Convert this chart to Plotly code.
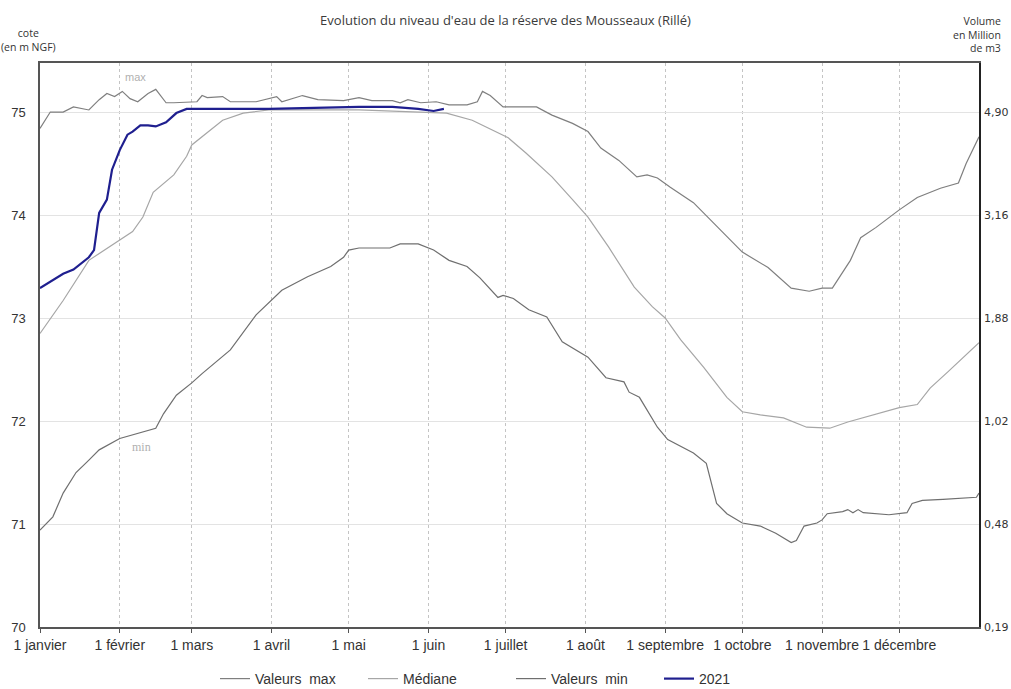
import plotly.graph_objects as go

# ---- data (x = day of year, 0 = 1 janvier) ----
max_days = [0, 4, 9, 13, 19, 23, 26, 29, 32, 35, 38, 42, 45, 47, 49, 52, 61, 63, 65, 71, 74, 84, 92, 94,
            102, 108, 118, 124, 129, 137, 140, 143, 148, 154, 159, 166, 170, 172, 175, 180, 193, 199,
            207, 213, 218, 225, 232, 236, 240, 245, 254, 273, 283, 292, 299, 304, 308, 315, 319, 325,
            334, 341, 350, 357, 360, 365]
max_vals = [74.84, 75.0, 75.0, 75.05, 75.02, 75.12, 75.18, 75.15, 75.2, 75.13, 75.1, 75.18, 75.22, 75.15,
            75.09, 75.09, 75.1, 75.16, 75.14, 75.15, 75.1, 75.1, 75.15, 75.1, 75.16, 75.12, 75.11, 75.14,
            75.11, 75.11, 75.09, 75.12, 75.09, 75.1, 75.07, 75.07, 75.1, 75.2, 75.16, 75.05, 75.05, 74.97,
            74.89, 74.81, 74.65, 74.53, 74.37, 74.39, 74.36, 74.27, 74.12, 73.64, 73.49, 73.29, 73.26,
            73.29, 73.29, 73.56, 73.78, 73.88, 74.05, 74.17, 74.26, 74.31, 74.5, 74.76]

med_days = [0, 9, 19, 31, 36, 40, 44, 52, 57, 59, 65, 71, 79, 89, 124, 158, 168, 182, 189, 199, 207,
            213, 221, 231, 238, 243, 249, 258, 267, 273, 280, 289, 298, 307, 314, 324, 334, 341, 346,
            353, 360, 365]
med_vals = [72.85, 73.17, 73.56, 73.76, 73.84, 73.98, 74.22, 74.39, 74.57, 74.68, 74.8, 74.92, 74.99,
            75.02, 75.02, 74.99, 74.92, 74.75, 74.6, 74.37, 74.15, 73.98, 73.69, 73.3, 73.11, 73.0,
            72.79, 72.52, 72.23, 72.09, 72.06, 72.03, 71.94, 71.93, 71.99, 72.06, 72.13, 72.16, 72.32,
            72.48, 72.64, 72.76]

min_days = [0, 5, 9, 14, 19, 23, 31, 39, 45, 48, 53, 59, 63, 74, 79, 84, 94, 104, 113, 118, 120, 124,
            136, 140, 147, 153, 159, 166, 171, 178, 180, 184, 190, 197, 203, 213, 220, 227, 229, 233,
            240, 244, 254, 259, 263, 267, 273, 280, 286, 292, 294, 297, 302, 304, 306, 312, 314, 316,
            318, 320, 330, 337, 339, 343, 351, 364, 365]
min_vals = [70.94, 71.07, 71.3, 71.5, 71.62, 71.72, 71.83, 71.89, 71.93, 72.07, 72.25, 72.37, 72.46,
            72.69, 72.86, 73.03, 73.27, 73.4, 73.5, 73.59, 73.66, 73.68, 73.68, 73.72, 73.72, 73.66,
            73.56, 73.5, 73.39, 73.2, 73.22, 73.19, 73.08, 73.01, 72.77, 72.62, 72.42, 72.38, 72.28,
            72.23, 71.94, 71.82, 71.69, 71.59, 71.2, 71.1, 71.01, 70.98, 70.91, 70.82, 70.84, 70.98,
            71.01, 71.04, 71.1, 71.12, 71.14, 71.11, 71.14, 71.11, 71.09, 71.11, 71.2, 71.23, 71.24,
            71.26, 71.3]

y2021_days = [0, 4, 9, 13, 19, 21, 22, 23, 26, 28, 31, 34, 36, 39, 42, 45, 49, 53, 57, 89, 124, 137,
              147, 153, 157]
y2021_vals = [73.29, 73.35, 73.43, 73.47, 73.59, 73.66, 73.85, 74.02, 74.15, 74.44, 74.63, 74.78,
              74.81, 74.87, 74.87, 74.86, 74.9, 74.99, 75.03, 75.03, 75.05, 75.05, 75.03, 75.01, 75.03]

month_days = [0, 31, 59, 90, 120, 151, 181, 212, 243, 273, 304, 334]
month_labels = ["1 janvier", "1 février", "1 mars", "1 avril", "1 mai", "1 juin", "1 juillet",
                "1 août", "1 septembre", "1 octobre", "1 novembre", "1 décembre"]

cote_ticks = [70, 71, 72, 73, 74, 75]
volume_labels = ["0,19", "0,48", "1,02", "1,88", "3,16", "4,90"]

# ---- figure ----
fig = go.Figure()
fig.add_trace(go.Scatter(x=max_days, y=max_vals, mode="lines", name="Valeurs  max",
                         line=dict(color="#7f7f7f", width=1.2)))
fig.add_trace(go.Scatter(x=med_days, y=med_vals, mode="lines", name="Médiane",
                         line=dict(color="#a6a6a6", width=1.2)))
fig.add_trace(go.Scatter(x=min_days, y=min_vals, mode="lines", name="Valeurs  min",
                         line=dict(color="#6f6f6f", width=1.2)))
fig.add_trace(go.Scatter(x=y2021_days, y=y2021_vals, mode="lines", name="2021",
                         line=dict(color="#1f1f8f", width=2.2)))
fig.add_trace(go.Scatter(x=[None], y=[None], yaxis="y2", showlegend=False, hoverinfo="skip"))

yrange = [70, 75.476]

fig.update_layout(
    width=1011, height=689,
    margin=dict(l=40, r=32, t=63, b=62, autoexpand=False),
    paper_bgcolor="white", plot_bgcolor="white",
    title=dict(text="Evolution du niveau d'eau de la réserve des Mousseaux (Rillé)",
               x=0.5, xanchor="center", y=0.97, yanchor="middle",
               font=dict(family="Open Sans, Liberation Sans", size=13, color="#3a3a3a")),
    xaxis=dict(range=[0, 365], tickmode="array", tickvals=month_days, ticktext=month_labels,
               showgrid=True, gridcolor="#c4c4c4", griddash="dot", gridwidth=1,
               showline=True, linecolor="#555555", linewidth=1.5, mirror=True,
               ticks="outside", ticklen=4, tickcolor="#555555", automargin=False,
               tickfont=dict(family="Liberation Sans Narrow, Liberation Sans", size=14, color="#333333"),
               zeroline=False),
    yaxis=dict(range=yrange, tickmode="array", tickvals=cote_ticks,
               showgrid=True, gridcolor="#e3e3e3", gridwidth=1,
               showline=True, linecolor="#555555", linewidth=1.5, mirror=True,
               ticks="", ticklabelstandoff=10, automargin=False,
               tickfont=dict(family="Liberation Sans", size=13, color="#333333"),
               zeroline=False),
    yaxis2=dict(range=yrange, overlaying="y", side="right", tickmode="array",
                tickvals=cote_ticks, ticktext=volume_labels, showgrid=False,
                showline=True, linecolor="#222222", linewidth=1.5, ticks="",
                ticklabelstandoff=1, automargin=False,
                tickfont=dict(family="DejaVu Sans", size=11, color="#333333"),
                zeroline=False),
    legend=dict(orientation="h", x=215 / 1011, xanchor="left", xref="container",
                y=10 / 689, yanchor="middle", yref="container",
                font=dict(family="Liberation Sans", size=14, color="#333333"),
                itemwidth=30, tracegroupgap=0, entrywidth=103, entrywidthmode="pixels"),
    showlegend=True,
    annotations=[
        dict(text="max", x=37, y=75.34, xref="x", yref="y", showarrow=False,
             font=dict(family="Liberation Sans", size=11, color="#b0b0b0")),
        dict(text="min", x=39.6, y=71.75, xref="x", yref="y", showarrow=False,
             font=dict(family="Liberation Serif", size=12, color="#b0b0b0")),
        dict(text="cote<br>(en m NGF)", x=-0.0125, y=1.04, xref="paper", yref="paper",
             xanchor="center", yanchor="middle", align="center", showarrow=False,
             font=dict(family="Open Sans, Liberation Sans", size=10.5, color="#333333")),
        dict(text="Volume<br>en Million<br>de m3", x=1.026, y=1.05, xref="paper", yref="paper",
             xanchor="right", yanchor="middle", align="right", showarrow=False,
             font=dict(family="Open Sans, Liberation Sans", size=10.5, color="#333333")),
    ],
)

fig.write_html("out.html", config={"displayModeBar": False},
               post_script="document.body.style.margin='0';document.body.style.overflow='hidden';")
